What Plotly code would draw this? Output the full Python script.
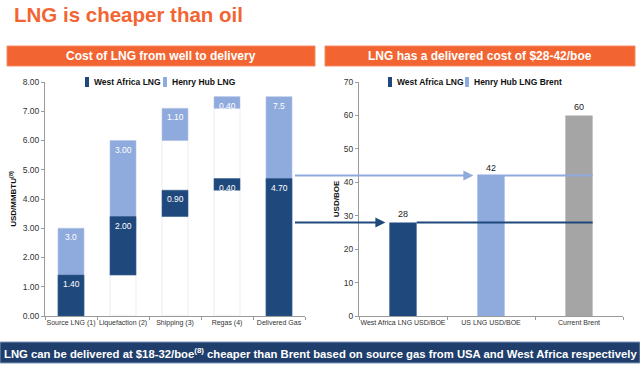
import plotly.graph_objects as go

# ---------------- data ----------------
steps = ["Source LNG (1)", "Liquefaction (2)", "Shipping (3)", "Regas (4)", "Delivered Gas"]
west_africa = [1.40, 2.00, 0.90, 0.40, 4.70]
henry_hub = [3.0, 3.00, 1.10, 0.40, 7.5]
west_africa_labels = ["1.40", "2.00", "0.90", "0.40", "4.70"]
henry_hub_labels = ["3.0", "3.00", "1.10", "0.40", "7.5"]

boe_cats = ["West Africa LNG USD/BOE", "US LNG USD/BOE", "Current Brent"]
boe_vals = [28, 42, 60]

left_ticks = [0, 1, 2, 3, 4, 5, 6, 7, 8]
right_ticks = [0, 10, 20, 30, 40, 50, 60, 70]

left_legend = ["West Africa LNG", "Henry Hub LNG"]
right_legend = ["West Africa LNG", "Henry Hub LNG Brent"]

# ---------------- styling ----------------
W, H = 640, 365
FONT = "Liberation Sans, Arial, sans-serif"
ORANGE = "#F26532"
DARK = "#1F497D"
LIGHT = "#8FAADC"
GREY = "#A5A5A5"
NAVY = "#1F3E6C"

LX0, LX1 = 45, 305      # left plot pixel extents
RX0, RX1 = 359, 623     # right plot pixel extents
PY0, PY1 = 82, 316      # plot top / bottom
LBW = 0.5               # left bar width (category units)
RBW = 0.31              # right bar width


def px(x):
    return x / W


def py(y):
    return 1 - y / H


# waterfall bases (intermediate steps stack on running total)
def bases(vals):
    out, run = [], 0.0
    for i, v in enumerate(vals):
        out.append(0.0 if (i == 0 or i == len(vals) - 1) else run)
        if i < len(vals) - 1:
            run += v
    return out


wa_base = bases(west_africa)
hh_base = bases(henry_hub)
wa_top = [b + v for b, v in zip(wa_base, west_africa)]
hh_top = [b + v for b, v in zip(hh_base, henry_hub)]

fig = go.Figure()

# faint invisible "base" bars (outline only)
fig.add_trace(go.Bar(
    x=steps, y=[max(a, b) for a, b in zip(wa_base, hh_base)], base=0, width=LBW,
    marker=dict(color="rgba(255,255,255,0)", line=dict(color="#E9EDF5", width=1)),
    showlegend=False, hoverinfo="skip", xaxis="x", yaxis="y"))

fig.add_trace(go.Bar(
    x=steps, y=henry_hub, base=hh_base, width=LBW, name=left_legend[1],
    marker=dict(color=LIGHT, line=dict(color="#B3C5E6", width=0.6)),
    showlegend=False, xaxis="x", yaxis="y"))
fig.add_trace(go.Bar(
    x=steps, y=west_africa, base=wa_base, width=LBW, name=left_legend[0],
    marker=dict(color=DARK, line=dict(color="#3A5F8F", width=0.6)),
    showlegend=False, xaxis="x", yaxis="y"))

# right chart
for i, col in enumerate([DARK, LIGHT, GREY]):
    fig.add_trace(go.Bar(
        x=[boe_cats[i]], y=[boe_vals[i]], width=RBW, name=boe_cats[i],
        marker=dict(color=col), text=[str(boe_vals[i])], textposition="outside",
        textfont=dict(size=9, color="#222"), cliponaxis=False, showlegend=False,
        xaxis="x2", yaxis="y2"))

annotations = []
# segment labels (left chart)
for i, c in enumerate(steps):
    annotations.append(dict(x=c, y=hh_top[i], xref="x", yref="y", text=henry_hub_labels[i],
                            showarrow=False, yanchor="top", yshift=-2,
                            font=dict(size=8.5, color="white", family=FONT)))
    annotations.append(dict(x=c, y=wa_top[i], xref="x", yref="y", text=west_africa_labels[i],
                            showarrow=False, yanchor="top", yshift=-2,
                            font=dict(size=8.5, color="white", family=FONT)))

# arrows from the delivered-gas bar to the right chart
tail_px = LX0 + (len(steps) - 1 + 0.5 + LBW / 2) * (LX1 - LX0) / len(steps)
rstep = (RX1 - RX0) / len(boe_cats)
for k, (col, val) in enumerate([(DARK, boe_vals[0]), (LIGHT, boe_vals[1])]):
    tip_px = RX0 + (k + 0.5 - RBW / 2) * rstep
    annotations.append(dict(x=k - RBW / 2, y=val, xref="x2", yref="y2", text=" ",
                            showarrow=True, arrowhead=2, arrowsize=1, arrowwidth=2,
                            arrowcolor=col, ax=tail_px - tip_px, ay=0, standoff=4))

shapes = [
    # section headers
    dict(type="rect", xref="paper", yref="paper", x0=px(7), x1=px(315), y0=py(66), y1=py(46),
         fillcolor=ORANGE, line=dict(color="#F48A62", width=1), layer="below"),
    dict(type="rect", xref="paper", yref="paper", x0=px(325), x1=px(635), y0=py(66), y1=py(46),
         fillcolor=ORANGE, line=dict(color="#F48A62", width=1), layer="below"),
    # bottom banner
    dict(type="rect", xref="paper", yref="paper", x0=0, x1=1, y0=py(363), y1=py(342),
         fillcolor=NAVY, line=dict(color="#7F96BA", width=1), layer="below"),
    # continuation lines across right chart
    dict(type="line", xref="x2", yref="y2", x0=0 + RBW / 2, x1=2 + RBW / 2,
         y0=boe_vals[0], y1=boe_vals[0], line=dict(color=DARK, width=2)),
    dict(type="line", xref="x2", yref="y2", x0=1 - RBW / 2, x1=2 + RBW / 2,
         y0=boe_vals[1], y1=boe_vals[1], line=dict(color=LIGHT, width=2)),
]

# manual legends: (marker left px, text left px, label, colour)
legend_items = [
    (85, 92, left_legend[0], DARK), (163, 170, left_legend[1], LIGHT),
    (388, 395, right_legend[0], DARK), (465, 472, right_legend[1], LIGHT),
]
for mx, tx, label, col in legend_items:
    shapes.append(dict(type="rect", xref="paper", yref="paper", x0=px(mx), x1=px(mx + 4),
                       y0=py(87), y1=py(77), fillcolor=col, line=dict(width=0)))
    annotations.append(dict(x=px(tx), y=py(82), xref="paper", yref="paper",
                            text="<b>" + label + "</b>", showarrow=False,
                            xanchor="left", yanchor="middle",
                            font=dict(size=8.5, color="#111", family=FONT)))

annotations += [
    dict(x=px(12), y=py(15), xref="paper", yref="paper", text="<b>LNG is cheaper than oil</b>",
         showarrow=False, xanchor="left", yanchor="middle",
         font=dict(size=20.5, color=ORANGE, family=FONT)),
    dict(x=px(161), y=py(56), xref="paper", yref="paper",
         text="<b>Cost of LNG from well to delivery</b>", showarrow=False,
         xanchor="center", yanchor="middle",
         font=dict(size=12, color="white", family=FONT)),
    dict(x=px(480), y=py(56), xref="paper", yref="paper",
         text="<b>LNG has a delivered cost of $28-42/boe</b>", showarrow=False,
         xanchor="center", yanchor="middle",
         font=dict(size=12, color="white", family=FONT)),
    dict(x=0.5, y=py(352.5), xref="paper", yref="paper",
         text="<b>LNG can be delivered at $18-32/boe<sup>(8)</sup> cheaper than Brent based on source gas from USA and West Africa respectively</b>",
         showarrow=False, xanchor="center", yanchor="middle",
         font=dict(size=11.3, color="white", family=FONT)),
]

axis_common = dict(showline=True, linecolor="#9A9A9A", linewidth=1, ticks="outside",
                   ticklen=3, tickcolor="#9A9A9A", showgrid=False, zeroline=False,
                   automargin=False)

fig.update_layout(
    width=W, height=H, template="none",
    paper_bgcolor="white", plot_bgcolor="white",
    margin=dict(l=0, r=0, t=0, b=0),
    barmode="overlay", showlegend=False, font=dict(family=FONT, color="#333"),
    xaxis=dict(domain=[px(LX0), px(LX1)], anchor="y", tickson="boundaries", tickangle=0,
               tickfont=dict(size=7, color="#333"), range=[-0.5, 4.5], **axis_common),
    yaxis=dict(domain=[py(PY1), py(PY0)], anchor="x", range=[0, 8], tickvals=left_ticks,
               tickformat=".2f", tickfont=dict(size=8.5, color="#333"),
               title=dict(text="<b>USD/MMBTU<sup>(8)</sup></b>", standoff=4,
                          font=dict(size=8, color="#111")), **axis_common),
    xaxis2=dict(domain=[px(RX0), px(RX1)], anchor="y2", tickson="boundaries", tickangle=0,
                tickfont=dict(size=7, color="#333"), range=[-0.5, 2.5], **axis_common),
    yaxis2=dict(domain=[py(PY1), py(PY0)], anchor="x2", range=[0, 70], tickvals=right_ticks,
                tickfont=dict(size=8.5, color="#333"),
                title=dict(text="<b>USD/BOE</b>", standoff=3,
                           font=dict(size=8, color="#111")), **axis_common),
    shapes=shapes, annotations=annotations,
)

fig.write_html("out.html", config={"displayModeBar": False},
               post_script="document.body.style.margin='0';")
